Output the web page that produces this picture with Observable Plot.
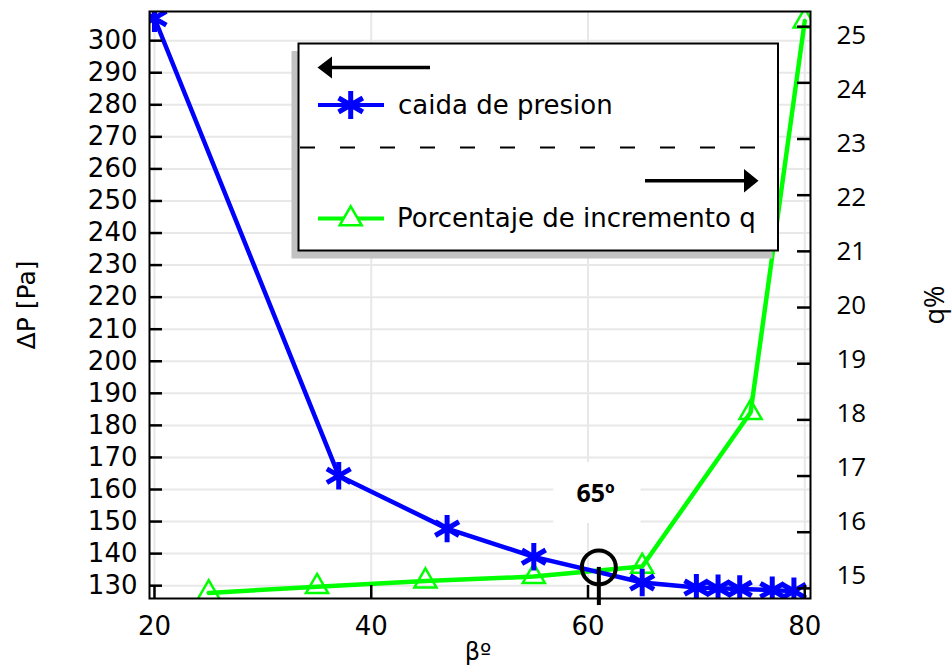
<!DOCTYPE html>
<html>
<head>
<meta charset="utf-8">
<script src="https://cdn.jsdelivr.net/npm/d3@7"></script>
<script src="https://cdn.jsdelivr.net/npm/@observablehq/plot@0.6"></script>
<style>
  html, body { margin: 0; padding: 0; background: #fff; }
  #wrap { position: relative; width: 952px; height: 666px; }
  #wrap svg.overlay { position: absolute; left: 0; top: 0; pointer-events: none; }
</style>
</head>
<body>
<div id="wrap"></div>
<script>
// ---- data ----
const betaP  = [20, 37, 47, 55, 65, 70, 72, 74, 77, 79];
const deltaP = [307, 164.3, 147.8, 139, 131, 129.4, 129.2, 129, 128.6, 128.3];

const betaQ = [25, 35, 45, 55, 65, 75, 80];
const qPct  = [14.92, 15.03, 15.13, 15.21, 15.39, 18.13, 25.1];

const xTicks      = [20, 40, 60, 80];
const leftTicks   = d3.range(130, 301, 10);
const rightTicks  = d3.range(15, 26, 1);

const xDomain = [19.54, 80.53];
const pDomain = [126.0, 309.1];   // left axis ΔP [Pa]
const qDomain = [14.82, 25.27];   // right axis q% (tick marks)
const qLabelDomain = [14.57, 25.45]; // right axis q% (as its labels are printed)

// annotation (optimum marker)
const marker = [{b: 61, p: 135.7, pEnd: 123.8}];
const markerLabel = [{b: 60.7, p: 158.7, text: "65º"}];
const markerBox = [{b1: 56.85, b2: 64.9, p1: 149.4, p2: 168.4}];

const legendLabels = ["caida de presion", "Porcentaje de incremento q"];

// ---- helpers ----
const toP = d3.scaleLinear().domain(qDomain).range(pDomain);
const toPLabel = d3.scaleLinear().domain(qLabelDomain).range(pDomain);
const pData = betaP.map((b, i) => ({b, p: deltaP[i]}));
const qData = betaQ.map((b, i) => ({b, q: qPct[i], p: toP(qPct[i])}));

const BLUE = "#0000ff", GREEN = "#00ff00";
const frameW = 952 - 149 - 142, frameH = 666 - 11 - 68;

const chart = Plot.plot({
  width: 952,
  height: 666,
  marginLeft: 149,
  marginRight: 142,
  marginTop: 11,
  marginBottom: 68,
  x: {domain: xDomain},
  y: {domain: pDomain},
  style: {fontFamily: "DejaVu Sans", fontSize: "26px", background: "#fff", color: "#000"},
  marks: [
    Plot.gridY(leftTicks, {stroke: "#e8e8e8", strokeOpacity: 1, strokeWidth: 2}),
    Plot.gridX(xTicks, {stroke: "#e8e8e8", strokeOpacity: 1, strokeWidth: 2}),
    Plot.rect(markerBox, {x1: "b1", x2: "b2", y1: "p1", y2: "p2", fill: "white"}),
    Plot.line(qData, {x: "b", y: "p", stroke: GREEN, strokeWidth: 4.5, clip: true}),
    Plot.dot(qData, {x: "b", y: "p", symbol: "triangle", r: 8.2, stroke: GREEN, strokeWidth: 2.5, fill: "none", clip: true}),
    Plot.line(pData, {x: "b", y: "p", stroke: BLUE, strokeWidth: 4.5, clip: true}),
    Plot.dot(pData, {x: "b", y: "p", symbol: "asterisk", r: 13, stroke: BLUE, strokeWidth: 5, clip: true}),
    Plot.ruleX(marker, {x: "b", y1: "p", y2: "pEnd", stroke: "black", strokeWidth: 4}),
    Plot.dot(marker, {x: "b", y: "p", r: 17, stroke: "black", strokeWidth: 4, fill: "none"}),
    Plot.text(markerLabel, {x: "b", y: "p", text: "text", fontFamily: "Open Sans", fontWeight: "bold", fontSize: 25}),
    Plot.frame({stroke: "black", strokeWidth: 2}),
    // inward ticks
    Plot.tickY(leftTicks, {y: d => d, insetRight: frameW - 13, stroke: "black", strokeWidth: 2.5}),
    Plot.tickY(rightTicks.map(toP), {y: d => d, insetLeft: frameW - 13, stroke: "black", strokeWidth: 2.5}),
    Plot.tickX(xTicks, {x: d => d, insetTop: frameH - 13, stroke: "black", strokeWidth: 2.5}),
    // tick labels
    Plot.axisY(leftTicks, {anchor: "left", tickSize: 0, tickPadding: 12, fontSize: 26, label: null}),
    Plot.axisY(rightTicks.map(toPLabel), {anchor: "right", tickSize: 0, tickPadding: 26,
      tickFormat: p => String(Math.round(toPLabel.invert(p))), fontFamily: "Open Sans", fontSize: 26, label: null}),
    Plot.axisX(xTicks, {anchor: "bottom", tickSize: 0, tickPadding: 18, fontSize: 26, label: null}),
    // axis titles
    Plot.text(["ΔP [Pa]"], {text: d => d, frameAnchor: "left", textAnchor: "middle", lineAnchor: "middle",
      dx: 26 - 149, rotate: -90, fontSize: 25}),
    Plot.text(["q%"], {text: d => d, frameAnchor: "right", textAnchor: "middle", lineAnchor: "middle",
      dx: 935 - 810, rotate: -90, fontFamily: "Open Sans", fontSize: 27}),
    Plot.text(["βº"], {text: d => d, frameAnchor: "bottom", textAnchor: "middle", lineAnchor: "middle",
      dx: -2, dy: 652 - 598, fontSize: 24})
  ]
});

const wrap = document.getElementById("wrap");
wrap.appendChild(chart);

// ---- legend overlay ----
const ast = d3.symbol(d3.symbolAsterisk, 555)();
const tri = d3.symbol(d3.symbolTriangle, 210)();
const NS = "http://www.w3.org/2000/svg";
const ov = document.createElementNS(NS, "svg");
ov.setAttribute("class", "overlay");
ov.setAttribute("width", 952);
ov.setAttribute("height", 666);
ov.innerHTML = `
  <rect x="291.5" y="51" width="481" height="207.5" fill="#c2c2c2"/>
  <rect x="298.5" y="43.5" width="479.5" height="207" fill="#fff" stroke="#000" stroke-width="2"/>
  <line x1="330" y1="67.5" x2="430" y2="67.5" stroke="#000" stroke-width="3.5"/>
  <path d="M317.5,67.5L332,56.5L332,78.5Z" fill="#000"/>
  <line x1="318" y1="105" x2="384" y2="105" stroke="${BLUE}" stroke-width="4"/>
  <path d="${ast}" transform="translate(350.7,105)" fill="none" stroke="${BLUE}" stroke-width="5"/>
  <text x="398" y="113.5" font-family="DejaVu Sans" font-size="26" fill="#000"></text>
  <line x1="300" y1="147.5" x2="777" y2="147.5" stroke="#000" stroke-width="2" stroke-dasharray="15,25"/>
  <line x1="645" y1="180.7" x2="746" y2="180.7" stroke="#000" stroke-width="3.5"/>
  <path d="M758.5,180.7L744,169L744,192.4Z" fill="#000"/>
  <line x1="318" y1="218.5" x2="384" y2="218.5" stroke="${GREEN}" stroke-width="4"/>
  <path d="${tri}" transform="translate(350.7,219)" fill="#fff" stroke="${GREEN}" stroke-width="2.5"/>
  <text x="397" y="226.5" font-family="DejaVu Sans" font-size="26" fill="#000"></text>
`;
const texts = ov.querySelectorAll("text");
texts[0].textContent = legendLabels[0];
texts[1].textContent = legendLabels[1];
wrap.appendChild(ov);
</script>
</body>
</html>
